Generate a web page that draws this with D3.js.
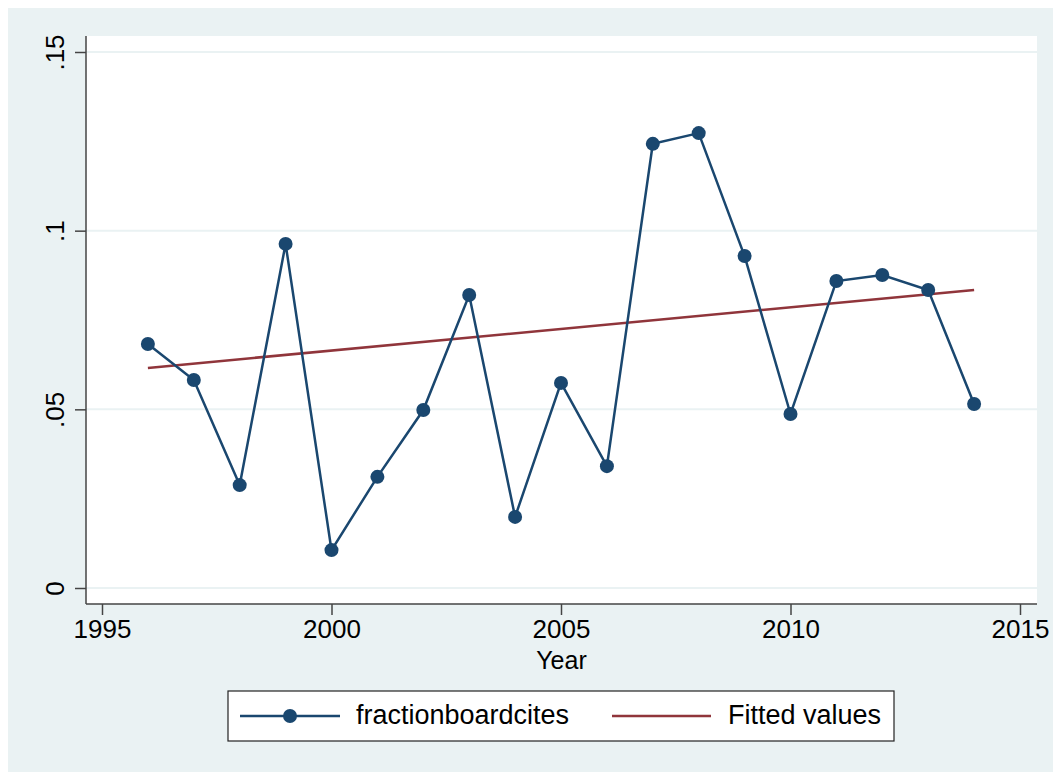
<!DOCTYPE html>
<html>
<head>
<meta charset="utf-8">
<script src="https://cdn.jsdelivr.net/npm/d3@7"></script>
<style>
html,body{margin:0;padding:0;background:#ffffff;}
svg{display:block;}
text{font-family:"Liberation Sans",Arial,sans-serif;fill:#000;}
</style>
</head>
<body>
<svg id="chart" width="1053" height="772"></svg>
<script>
const years = [1996,1997,1998,1999,2000,2001,2002,2003,2004,2005,2006,2007,2008,2009,2010,2011,2012,2013,2014];
const fraction = [0.0683,0.0582,0.0288,0.0963,0.0106,0.0311,0.0498,0.0820,0.0199,0.0574,0.0341,0.1243,0.1273,0.0929,0.0487,0.0859,0.0876,0.0834,0.0515];
const fittedYears = [1996,2014];
const fittedValues = [0.0616,0.0834];
const xTicks = [1995,2000,2005,2010,2015];
const yTicks = [0,0.05,0.1,0.15];
const yTickLabels = ["0",".05",".1",".15"];
const seriesNames = ["fractionboardcites","Fitted values"];

const navy = "#1a476f", maroon = "#90353b", bg = "#eaf2f3";
const svg = d3.select("#chart");

svg.append("rect").attr("x",8).attr("y",8).attr("width",1045).attr("height",764).attr("fill",bg);
const plot = {l:86,t:36,r:1037,b:604};
svg.append("rect").attr("x",plot.l).attr("y",plot.t).attr("width",plot.r-plot.l).attr("height",plot.b-plot.t).attr("fill","#fff");

const x = d3.scaleLinear().domain([1995,2015]).range([102,1020]);
const y = d3.scaleLinear().domain([0,0.15]).range([588,52]);

// gridlines
svg.append("g").selectAll("line").data(yTicks).join("line")
  .attr("x1",plot.l).attr("x2",plot.r)
  .attr("y1",d=>y(d)).attr("y2",d=>y(d))
  .attr("stroke",bg).attr("stroke-width",2);

// y axis
const yAxis = svg.append("g").attr("transform",`translate(${plot.l},0)`)
  .call(d3.axisLeft(y).tickValues(yTicks).tickSize(11).tickPadding(0).tickFormat((d,i)=>yTickLabels[i]));
yAxis.select(".domain").attr("d",`M0,${plot.t}V${plot.b}`).attr("stroke","#444").attr("stroke-width",1.5);
yAxis.selectAll(".tick line").attr("stroke","#444").attr("stroke-width",1.5);
yAxis.selectAll(".tick text")
  .attr("font-size",26).attr("text-anchor","middle").attr("dy",0)
  .attr("x",0).attr("y",0)
  .attr("transform","translate(-13,0) rotate(-90) translate(0,-9)")
  .style("font-family","'Liberation Sans',Arial,sans-serif");

// x axis
const xAxis = svg.append("g").attr("transform",`translate(0,${plot.b})`)
  .call(d3.axisBottom(x).tickValues(xTicks).tickSize(11).tickPadding(5).tickFormat(d3.format("d")));
xAxis.select(".domain").attr("d",`M${plot.l},0H${plot.r}`).attr("stroke","#444").attr("stroke-width",1.5);
xAxis.selectAll(".tick line").attr("stroke","#444").attr("stroke-width",1.5);
xAxis.selectAll(".tick text").attr("font-size",26).attr("dy","0.71em")
  .style("font-family","'Liberation Sans',Arial,sans-serif");

svg.append("text").attr("x",(plot.l+plot.r)/2).attr("y",669).attr("text-anchor","middle")
  .attr("font-size",25).text("Year");

// fitted line
const fitted = fittedYears.map((yr,i)=>({x:yr,y:fittedValues[i]}));
svg.append("path").datum(fitted)
  .attr("d",d3.line().x(d=>x(d.x)).y(d=>y(d.y)))
  .attr("fill","none").attr("stroke",maroon).attr("stroke-width",2.5);

// series line
const pts = years.map((yr,i)=>({x:yr,y:fraction[i]}));
svg.append("path").datum(pts)
  .attr("d",d3.line().x(d=>x(d.x)).y(d=>y(d.y)))
  .attr("fill","none").attr("stroke",navy).attr("stroke-width",2.5);
svg.append("g").selectAll("circle").data(pts).join("circle")
  .attr("cx",d=>x(d.x)).attr("cy",d=>y(d.y)).attr("r",7).attr("fill",navy);

// legend
const lg = svg.append("g");
lg.append("rect").attr("x",228).attr("y",691).attr("width",666).attr("height",50)
  .attr("fill","#fff").attr("stroke","#222").attr("stroke-width",1.2);
lg.append("line").attr("x1",240).attr("x2",340).attr("y1",716).attr("y2",716).attr("stroke",navy).attr("stroke-width",2.5);
lg.append("circle").attr("cx",290).attr("cy",716).attr("r",7).attr("fill",navy);
lg.append("text").attr("x",356).attr("y",724).attr("font-size",27).text(seriesNames[0]);
lg.append("line").attr("x1",612).attr("x2",711).attr("y1",716).attr("y2",716).attr("stroke",maroon).attr("stroke-width",2.5);
lg.append("text").attr("x",728).attr("y",724).attr("font-size",27).text(seriesNames[1]);
</script>
</body>
</html>
